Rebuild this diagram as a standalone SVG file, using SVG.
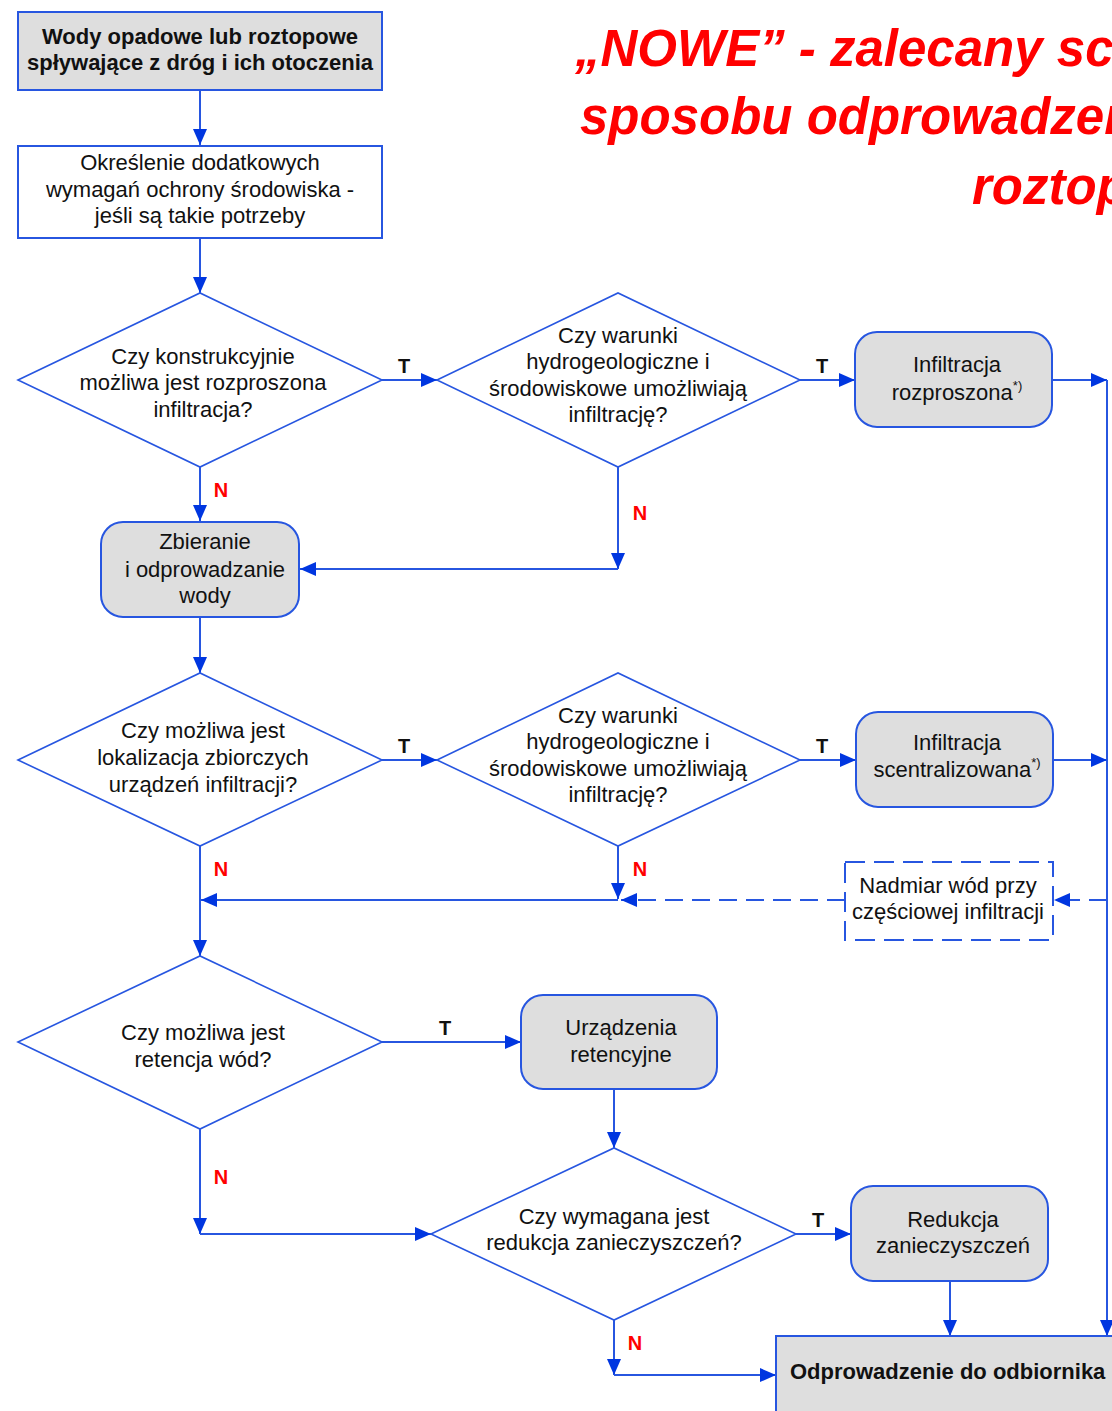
<svg xmlns="http://www.w3.org/2000/svg" width="1112" height="1411" viewBox="0 0 1112 1411">
<defs>
<marker id="ah" viewBox="0 0 16 14" refX="16" refY="7" markerWidth="16" markerHeight="14" orient="auto" markerUnits="userSpaceOnUse"><path d="M0,0 L16,7 L0,14 z" fill="#0036e0"/></marker>
<style>
.box{fill:#ffffff;stroke:#2756e0;stroke-width:2}
.gbox{fill:#dedede;stroke:#2756e0;stroke-width:2}
.dia{fill:#ffffff;stroke:#2756e0;stroke-width:1.6}
.dbox{fill:#ffffff;stroke:#2756e0;stroke-width:2;stroke-dasharray:20 9}
.arr{fill:none;stroke:#2756e0;stroke-width:2;marker-end:url(#ah)}
.darr{fill:none;stroke:#2756e0;stroke-width:2;stroke-dasharray:18 9;marker-end:url(#ah)}
.t{font-family:"Liberation Sans",Arial,sans-serif;font-size:22px;fill:#111;text-anchor:middle}
.tb{font-family:"Liberation Sans",Arial,sans-serif;font-size:22px;font-weight:bold;fill:#111;text-anchor:middle}
.sup{font-size:13px}
.lt{font-family:"Liberation Sans",Arial,sans-serif;font-size:20px;font-weight:bold;fill:#111;text-anchor:middle}
.ln-n{font-family:"Liberation Sans",Arial,sans-serif;font-size:20px;font-weight:bold;fill:#ff0000;text-anchor:middle}
.title{font-family:"Liberation Sans",Arial,sans-serif;font-size:51px;font-weight:bold;font-style:italic;fill:#ff0000}
</style>
</defs>
<rect width="1112" height="1411" fill="#ffffff"/>

<g id="title">
<text class="title" x="575" y="66">„NOWE” - zalecany sch</text>
<text class="title" x="580" y="134">sposobu odprowadzen</text>
<text class="title" x="972" y="204">roztop</text>
</g>

<g id="connectors">
<path class="arr" d="M200,90 V145"/>
<path class="arr" d="M200,238 V293"/>
<path class="arr" d="M382,380 H437"/>
<path class="arr" d="M800,380 H855"/>
<path class="arr" d="M1052,380 H1107"/>
<path class="arr" d="M1107,380 V1336"/>
<path class="arr" d="M200,467 V521"/>
<path class="arr" d="M618,467 V569"/>
<path class="arr" d="M618,569 H300"/>
<path class="arr" d="M200,617 V673"/>
<path class="arr" d="M382,760 H437"/>
<path class="arr" d="M800,760 H856"/>
<path class="arr" d="M1053,760 H1107"/>
<path class="arr" d="M200,846 V956"/>
<path class="arr" d="M618,846 V899"/>
<path class="arr" d="M618,900 H201"/>
<path class="darr" d="M1107,900 H1054"/>
<path class="darr" d="M845,900 H621"/>
<path class="arr" d="M382,1042 H521"/>
<path class="arr" d="M614,1089 V1148"/>
<path class="arr" d="M200,1129 V1234"/>
<path class="arr" d="M200,1234 H431"/>
<path class="arr" d="M796,1234 H851"/>
<path class="arr" d="M950,1281 V1336"/>
<path class="arr" d="M614,1320 V1375"/>
<path class="arr" d="M614,1375 H776"/>
</g>

<g id="labels">
<text class="lt" x="404" y="373">T</text>
<text class="lt" x="822" y="373">T</text>
<text class="lt" x="404" y="753">T</text>
<text class="lt" x="822" y="753">T</text>
<text class="lt" x="445" y="1035">T</text>
<text class="lt" x="818" y="1227">T</text>
<text class="ln-n" x="221" y="497">N</text>
<text class="ln-n" x="640" y="520">N</text>
<text class="ln-n" x="221" y="876">N</text>
<text class="ln-n" x="640" y="876">N</text>
<text class="ln-n" x="221" y="1184">N</text>
<text class="ln-n" x="635" y="1350">N</text>
</g>

<g id="n-start">
<rect class="gbox" x="18" y="12" width="364" height="78"/>
<text class="tb" x="200" y="44">Wody opadowe lub roztopowe</text>
<text class="tb" x="200" y="70">spływające z dróg i ich otoczenia</text>
</g>

<g id="n-wymagania">
<rect class="box" x="18" y="146" width="364" height="92"/>
<text class="t" x="200" y="170">Określenie dodatkowych</text>
<text class="t" x="200" y="197">wymagań ochrony środowiska -</text>
<text class="t" x="200" y="223">jeśli są takie potrzeby</text>
</g>

<g id="d-rozproszona">
<polygon class="dia" points="18,380 200,293 382,380 200,467"/>
<text class="t" x="203" y="364">Czy konstrukcyjnie</text>
<text class="t" x="203" y="390">możliwa jest rozproszona</text>
<text class="t" x="203" y="417">infiltracja?</text>
</g>

<g id="d-warunki1">
<polygon class="dia" points="437,380 618,293 800,380 618,467"/>
<text class="t" x="618" y="343">Czy warunki</text>
<text class="t" x="618" y="369">hydrogeologiczne i</text>
<text class="t" x="618" y="396">środowiskowe umożliwiają</text>
<text class="t" x="618" y="422">infiltrację?</text>
</g>

<g id="n-infroz">
<rect class="gbox" x="855" y="332" width="197" height="95" rx="22"/>
<text class="t" x="957" y="372">Infiltracja</text>
<text class="t" x="957" y="400">rozproszona<tspan class="sup" dy="-10">*)</tspan></text>
</g>

<g id="n-zbieranie">
<rect class="gbox" x="101" y="522" width="198" height="95" rx="22"/>
<text class="t" x="205" y="549">Zbieranie</text>
<text class="t" x="205" y="577">i odprowadzanie</text>
<text class="t" x="205" y="603">wody</text>
</g>

<g id="d-lokalizacja">
<polygon class="dia" points="18,760 200,673 382,760 200,846"/>
<text class="t" x="203" y="738">Czy możliwa jest</text>
<text class="t" x="203" y="765">lokalizacja zbiorczych</text>
<text class="t" x="203" y="792">urządzeń infiltracji?</text>
</g>

<g id="d-warunki2">
<polygon class="dia" points="437,760 618,673 800,760 618,846"/>
<text class="t" x="618" y="723">Czy warunki</text>
<text class="t" x="618" y="749">hydrogeologiczne i</text>
<text class="t" x="618" y="776">środowiskowe umożliwiają</text>
<text class="t" x="618" y="802">infiltrację?</text>
</g>

<g id="n-infscen">
<rect class="gbox" x="856" y="712" width="197" height="95" rx="22"/>
<text class="t" x="957" y="750">Infiltracja</text>
<text class="t" x="957" y="777">scentralizowana<tspan class="sup" dy="-10">*)</tspan></text>
</g>

<g id="n-nadmiar">
<rect class="dbox" x="845" y="862" width="208" height="78"/>
<text class="t" x="948" y="893">Nadmiar wód przy</text>
<text class="t" x="948" y="919">częściowej infiltracji</text>
</g>

<g id="d-retencja">
<polygon class="dia" points="18,1042 200,956 382,1042 200,1129"/>
<text class="t" x="203" y="1040">Czy możliwa jest</text>
<text class="t" x="203" y="1067">retencja wód?</text>
</g>

<g id="n-retencyjne">
<rect class="gbox" x="521" y="995" width="196" height="94" rx="22"/>
<text class="t" x="621" y="1035">Urządzenia</text>
<text class="t" x="621" y="1062">retencyjne</text>
</g>

<g id="d-redukcja">
<polygon class="dia" points="431,1234 614,1148 796,1234 614,1320"/>
<text class="t" x="614" y="1224">Czy wymagana jest</text>
<text class="t" x="614" y="1250">redukcja zanieczyszczeń?</text>
</g>

<g id="n-redukcja">
<rect class="gbox" x="851" y="1186" width="197" height="95" rx="22"/>
<text class="t" x="953" y="1227">Redukcja</text>
<text class="t" x="953" y="1253">zanieczyszczeń</text>
</g>

<g id="n-odbiornik">
<rect class="gbox" x="776" y="1336" width="360" height="90"/>
<text class="tb" x="790" y="1379" style="text-anchor:start">Odprowadzenie do odbiornika</text>
</g>
</svg>
